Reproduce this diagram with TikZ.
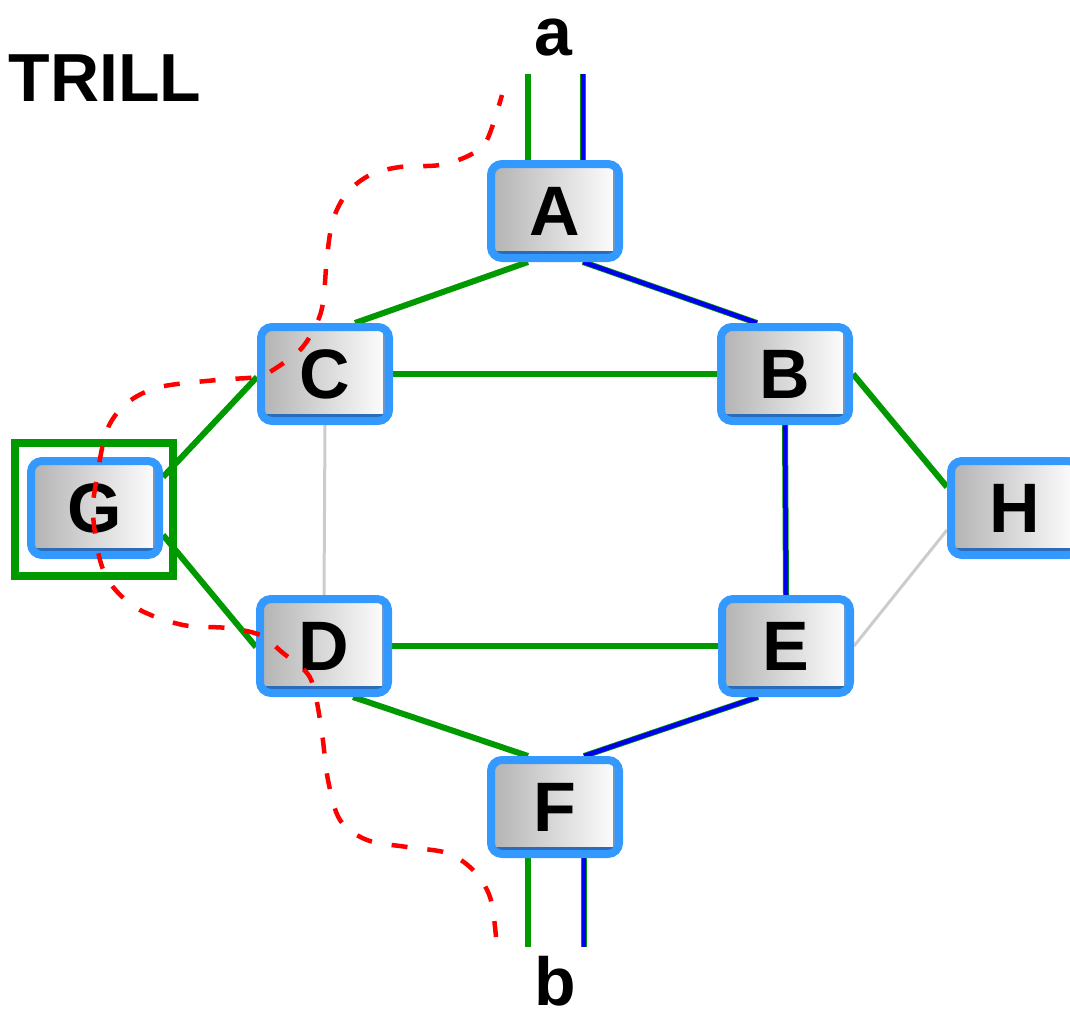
\documentclass[tikz,border=0pt]{standalone}
\usepackage{fontspec}
\setmainfont{Liberation Sans}
\usetikzlibrary{calc,backgrounds}
\definecolor{lgreen}{HTML}{009900}
\definecolor{lblue}{HTML}{0000F0}
\definecolor{nblue}{HTML}{3399FF}
\definecolor{sblue}{HTML}{2B6CB8}
\definecolor{lgray}{HTML}{CCCCCC}
\definecolor{dred}{HTML}{FF0000}
\newfontfamily\nodefont{Liberation Sans}
\tikzset{
  sw/.style={draw=nblue, line width=8pt, rounded corners=11pt,
    left color=black!30, right color=white,
    minimum width=128pt, minimum height=94pt, inner sep=0pt,
    font=\nodefont\bfseries\fontsize{70}{80}\selectfont,
    path picture={
      \draw[line width=3pt, sblue, rounded corners=0pt]
        ([yshift=5.5pt]path picture bounding box.south west) --
        ([yshift=5.5pt]path picture bounding box.south east);
      \draw[line width=2pt, sblue!70, rounded corners=0pt]
        ([xshift=-5pt]path picture bounding box.south east) --
        ([xshift=-5pt]path picture bounding box.north east);
    }},
  glink/.style={lgreen, line width=6pt},
  blink/.style={lblue, line width=4.5pt, preaction={draw=lgreen, line width=6pt}},
  graylink/.style={lgray, line width=3pt},
  lbl/.style={font=\nodefont\bfseries\fontsize{68}{80}\selectfont, inner sep=0pt},
  gbox/.style={draw=lgreen, line width=8pt, minimum width=158pt, minimum height=133pt, inner sep=0pt},
  reddash/.style={dred, line width=4.5pt, dash pattern=on 16pt off 20pt}
}
\begin{document}
\begin{tikzpicture}[x=1pt,y=-1pt]
\useasboundingbox (0,0) rectangle (1070,1012);
% nodes
\node[sw] (A) at (555,211) {A};
\node[sw] (C) at (325,374) {C};
\node[sw] (B) at (785,374) {B};
\node[sw] (G) at (95,508) {G};
\node[sw] (H) at (1015,508) {H};
\node[sw] (D) at (324,646) {D};
\node[sw] (E) at (786,646) {E};
\node[sw] (F) at (555,807) {F};
% labels
\node[lbl, anchor=base west] (trill) at (8.5,101) {TRILL};
\node[lbl, anchor=base] (la) at (553.5,55) {a};
\node[lbl, anchor=base] (lb) at (555,1005) {b};
% free ends
\coordinate (ag) at (528,74);
\coordinate (ab) at (583,74);
\coordinate (bg) at (528,947);
\coordinate (bb) at (584,947);
% connectors
\begin{scope}[on background layer]
\draw[glink] ($(A.north)+(-27,0)$) -- (ag);
\draw[blink] ($(A.north)+(28,0)$) -- (ab);
\draw[glink] ($(A.south)+(-27,0)$) -- ($(C.north)+(30,0)$);
\draw[blink] ($(A.south)+(28,0)$) -- ($(B.north)+(-28,0)$);
\draw[glink] (C.east) -- (B.west);
\draw[glink] (B.east) -- ($(H.west)+(0,-21)$);
\draw[blink] (B.south) -- (E.north);
\draw[graylink] (E.east) -- ($(H.west)+(0,22)$);
\draw[graylink] (C.south) -- (D.north);
\draw[glink] ($(G.east)+(0,-31)$) -- ($(C.west)+(0,3)$);
\draw[glink] ($(G.east)+(0,27)$) -- ($(D.west)+(0,1)$);
\draw[glink] (D.east) -- (E.west);
\draw[glink] ($(D.south)+(29,0)$) -- ($(F.north)+(-27,0)$);
\draw[blink] ($(E.south)+(-28,0)$) -- ($(F.north)+(29,0)$);
\draw[glink] ($(F.south)+(-27,0)$) -- (bg);
\draw[blink] ($(F.south)+(29,0)$) -- (bb);
\end{scope}
% highlight box around G
\node[gbox] (Gbox) at (94,509.5) {};
% red dashed path
\draw[reddash] plot[smooth, tension=0.55] coordinates {
 (496,937) (490,897) (473,870) (447,853) (407,847) (367,840) (340,820)
 (328,780) (322,733) (315,693) (307,673) (283,653) (260,635) (227,628)
 (183,625) (140,610) (113,587) (100,560) (93,513) (97,477) (107,430)
 (127,403) (160,387) (217,380) (257,377) (273,370) (300,350) (315,327)
 (323,303) (327,257) (333,220) (347,193) (370,175) (400,167) (440,165)
 (470,155) (487,140) (502,95)};
\end{tikzpicture}
\end{document}
